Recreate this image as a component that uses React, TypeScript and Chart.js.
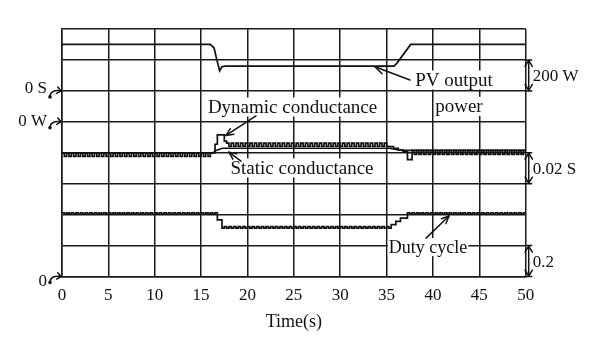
import React, { useEffect, useRef } from 'react';
import { Chart, registerables } from 'chart.js';

Chart.register(...registerables);

// ---------- data ----------
const X_MIN = 0;
const X_MAX = 50;
const X_STEP = 5; // tick labels 0,5,...,50 (s)
const SAMPLE_STEP = 0.25; // s, spacing of the sampled traces below

// PV output power (W)
const pvTimes = [0, 16.0, 16.4, 16.7, 17.0, 17.25, 17.6, 35.8, 36.1, 37.6, 50];
const pvPower = [500, 500, 477, 400, 330, 356, 360, 360, 378, 500, 500];

// Static conductance -I/V (S)
const staticTimes = [0, 16.3, 16.6, 17.3, 35.3, 36.0, 37.0, 50];
const staticConductance = [-0.04, -0.04, -0.0385, -0.0371, -0.0371, -0.0378, -0.0385, -0.0385];

// Dynamic conductance dI/dV (S), sampled every 0.25 s
const dynamicConductance = [
  -0.0402, -0.0424, -0.0402, -0.0424, -0.0402, -0.0424, -0.0402, -0.0424, -0.0402, -0.0424,
  -0.0402, -0.0424, -0.0402, -0.0424, -0.0402, -0.0424, -0.0402, -0.0424, -0.0402, -0.0424,
  -0.0402, -0.0424, -0.0402, -0.0424, -0.0402, -0.0424, -0.0402, -0.0424, -0.0402, -0.0424,
  -0.0402, -0.0424, -0.0402, -0.0424, -0.0402, -0.0424, -0.0402, -0.0424, -0.0402, -0.0424,
  -0.0402, -0.0424, -0.0402, -0.0424, -0.0402, -0.0424, -0.0402, -0.0424, -0.0402, -0.0424,
  -0.0402, -0.0424, -0.0402, -0.0424, -0.0402, -0.0424, -0.0402, -0.0424, -0.0402, -0.0424,
  -0.0402, -0.0424, -0.0402, -0.0424, -0.0402,
  -0.04, -0.0345, -0.0284, -0.0284, -0.0284, -0.0325,
  -0.0338, -0.0358, -0.0338, -0.0358, -0.0338, -0.0358, -0.0338, -0.0358, -0.0338, -0.0358,
  -0.0338, -0.0358, -0.0338, -0.0358, -0.0338, -0.0358, -0.0338, -0.0358, -0.0338, -0.0358,
  -0.0338, -0.0358, -0.0338, -0.0358, -0.0338, -0.0358, -0.0338, -0.0358, -0.0338, -0.0358,
  -0.0338, -0.0358, -0.0338, -0.0358, -0.0338, -0.0358, -0.0338, -0.0358, -0.0338, -0.0358,
  -0.0338, -0.0358, -0.0338, -0.0358, -0.0338, -0.0358, -0.0338, -0.0358, -0.0338, -0.0358,
  -0.0338, -0.0358, -0.0338, -0.0358, -0.0338, -0.0358, -0.0338, -0.0358, -0.0338, -0.0358,
  -0.0338, -0.0358, -0.0338, -0.0358, -0.0338, -0.0358, -0.0338, -0.0358, -0.0338, -0.0358,
  -0.036, -0.036, -0.0371, -0.0371, -0.0382, -0.0382, -0.0393, -0.0393, -0.0445, -0.0445,
  -0.0385, -0.041, -0.0385, -0.041, -0.0385, -0.041, -0.0385, -0.041, -0.0385, -0.041,
  -0.0385, -0.041, -0.0385, -0.041, -0.0385, -0.041, -0.0385, -0.041, -0.0385, -0.041,
  -0.0385, -0.041, -0.0385, -0.041, -0.0385, -0.041, -0.0385, -0.041, -0.0385, -0.041,
  -0.0385, -0.041, -0.0385, -0.041, -0.0385, -0.041, -0.0385, -0.041, -0.0385, -0.041,
  -0.0385, -0.041, -0.0385, -0.041, -0.0385, -0.041, -0.0385, -0.041, -0.0385, -0.041,
];

// Duty cycle, sampled every 0.25 s
const dutyCycle = [
  0.412, 0.404, 0.412, 0.404, 0.412, 0.404, 0.412, 0.404, 0.412, 0.404,
  0.412, 0.404, 0.412, 0.404, 0.412, 0.404, 0.412, 0.404, 0.412, 0.404,
  0.412, 0.404, 0.412, 0.404, 0.412, 0.404, 0.412, 0.404, 0.412, 0.404,
  0.412, 0.404, 0.412, 0.404, 0.412, 0.404, 0.412, 0.404, 0.412, 0.404,
  0.412, 0.404, 0.412, 0.404, 0.412, 0.404, 0.412, 0.404, 0.412, 0.404,
  0.412, 0.404, 0.412, 0.404, 0.412, 0.404, 0.412, 0.404, 0.412, 0.404,
  0.412, 0.404, 0.412, 0.404, 0.412, 0.404, 0.412,
  0.366, 0.366,
  0.313, 0.322, 0.313, 0.322, 0.313, 0.322, 0.313, 0.322, 0.313, 0.322,
  0.313, 0.322, 0.313, 0.322, 0.313, 0.322, 0.313, 0.322, 0.313, 0.322,
  0.313, 0.322, 0.313, 0.322, 0.313, 0.322, 0.313, 0.322, 0.313, 0.322,
  0.313, 0.322, 0.313, 0.322, 0.313, 0.322, 0.313, 0.322, 0.313, 0.322,
  0.313, 0.322, 0.313, 0.322, 0.313, 0.322, 0.313, 0.322, 0.313, 0.322,
  0.313, 0.322, 0.313, 0.322, 0.313, 0.322, 0.313, 0.322, 0.313, 0.322,
  0.313, 0.322, 0.313, 0.322, 0.313, 0.322, 0.313, 0.322, 0.313, 0.322,
  0.313, 0.322, 0.313,
  0.335, 0.335, 0.357, 0.357, 0.378, 0.378, 0.378,
  0.412, 0.404, 0.412, 0.404, 0.412, 0.404, 0.412, 0.404, 0.412, 0.404,
  0.412, 0.404, 0.412, 0.404, 0.412, 0.404, 0.412, 0.404, 0.412, 0.404,
  0.412, 0.404, 0.412, 0.404, 0.412, 0.404, 0.412, 0.404, 0.412, 0.404,
  0.412, 0.404, 0.412, 0.404, 0.412, 0.404, 0.412, 0.404, 0.412, 0.404,
  0.412, 0.404, 0.412, 0.404, 0.412, 0.404, 0.412, 0.404, 0.412, 0.404,
  0.412, 0.404,
];

// channel scales (value per division, 8 divisions on screen)
const DIVISIONS = 8;
const PV_PER_DIV = 200; // W
const PV_ZERO_DIV = 5;
const G_PER_DIV = 0.02; // S
const G_ZERO_DIV = 6;
const D_PER_DIV = 0.2;
const D_ZERO_DIV = 0;

// ---------- styling ----------
const SERIF = '"Liberation Serif", "DejaVu Serif", serif';
const INK = '#111111';
const GRID = '#1a1a1a';

function head(ctx: CanvasRenderingContext2D, x1: number, y1: number, x2: number, y2: number, size = 8, spread = 0.42) {
  const a = Math.atan2(y2 - y1, x2 - x1);
  ctx.beginPath();
  ctx.moveTo(x2 - size * Math.cos(a - spread), y2 - size * Math.sin(a - spread));
  ctx.lineTo(x2, y2);
  ctx.lineTo(x2 - size * Math.cos(a + spread), y2 - size * Math.sin(a + spread));
  ctx.stroke();
}

function arrow(ctx: CanvasRenderingContext2D, x1: number, y1: number, x2: number, y2: number, size = 8) {
  ctx.beginPath();
  ctx.moveTo(x1, y1);
  ctx.lineTo(x2, y2);
  ctx.stroke();
  head(ctx, x1, y1, x2, y2, size);
}

const scopePlugin = {
  id: 'scopeAnnotations',
  beforeDatasetsDraw(chart: any) {
    const { ctx, scales } = chart;
    const X = (t: number) => scales.x.getPixelForValue(t);
    const Y = (d: number) => scales.yD.getPixelForValue(d * D_PER_DIV);
    const labels: [string, number, number, number][] = [
      ['Dynamic conductance', 24.86, 5.48, 19],
      ['Static conductance', 25.88, 3.51, 19],
      ['PV output', 42.27, 6.35, 19],
      ['power', 42.8, 5.5, 19],
      ['Duty cycle', 39.47, 0.95, 18],
    ];
    ctx.save();
    ctx.textAlign = 'center';
    ctx.textBaseline = 'middle';
    for (const [text, t, d, size] of labels) {
      ctx.font = `${size}px ${SERIF}`;
      const w = ctx.measureText(text).width;
      const cx = X(t);
      const cy = Y(d);
      ctx.fillStyle = '#ffffff';
      ctx.fillRect(cx - w / 2 - 1, cy - size * 0.5, w + 2, size * 1.0);
      ctx.fillStyle = INK;
      ctx.fillText(text, cx, cy + 1);
    }
    ctx.restore();
  },
  afterDatasetsDraw(chart: any) {
    const { ctx, scales, chartArea } = chart;
    const X = (t: number) => scales.x.getPixelForValue(t);
    const Y = (d: number) => scales.yD.getPixelForValue(d * D_PER_DIV);
    ctx.save();
    ctx.strokeStyle = INK;
    ctx.fillStyle = INK;
    ctx.lineWidth = 1.5;
    ctx.lineCap = 'round';
    ctx.lineJoin = 'round';

    // pointer arrows
    arrow(ctx, X(20.92), Y(5.19), X(17.68), Y(4.56));
    arrow(ctx, X(19.3), Y(3.73), X(18.0), Y(4.02));
    arrow(ctx, X(37.52), Y(6.35), X(33.75), Y(6.78), 10);
    arrow(ctx, X(39.25), Y(1.24), X(41.73), Y(1.955));

    // right side scale markers
    const r = chartArea.right;
    const mx = r + 3;
    const markers: [number, number, string][] = [
      [7, 6, '200 W'],
      [4, 3, '0.02 S'],
      [1, 0, '0.2'],
    ];
    ctx.font = `17px ${SERIF}`;
    ctx.textAlign = 'left';
    ctx.textBaseline = 'middle';
    for (const [top, bot, text] of markers) {
      const y1 = Y(top);
      const y2 = Y(bot);
      ctx.beginPath();
      ctx.moveTo(r, y1);
      ctx.lineTo(r + 6, y1);
      ctx.moveTo(r, y2);
      ctx.lineTo(r + 6, y2);
      ctx.moveTo(mx, y1 + 1);
      ctx.lineTo(mx, y2 - 1);
      ctx.stroke();
      head(ctx, mx, y2, mx, y1 + 0.5, 7, 0.55);
      head(ctx, mx, y1, mx, y2 - 0.5, 7, 0.55);
      ctx.fillText(text, r + 7, (y1 + y2) / 2 + 1);
    }

    // left zero markers
    const l = chartArea.left;
    const zeros: [number, string, number][] = [
      [G_ZERO_DIV, '0 S', -3],
      [PV_ZERO_DIV, '0 W', -1],
      [D_ZERO_DIV, '0', 4],
    ];
    ctx.textAlign = 'right';
    for (const [d, text, dy] of zeros) {
      const y = Y(d);
      ctx.fillText(text, l - 15, y + dy + 1);
      ctx.beginPath();
      ctx.moveTo(l - 12, y + 6);
      ctx.bezierCurveTo(l - 12, y + 1, l - 8, y - 1, l - 1, y);
      ctx.stroke();
      head(ctx, l - 7, y - 1, l - 1, y, 5, 0.7);
      ctx.beginPath();
      ctx.arc(l - 12, y + 6, 1.8, 0, Math.PI * 2);
      ctx.fill();
    }
    ctx.restore();
  },
};

export default function App() {
  const canvasRef = useRef<HTMLCanvasElement | null>(null);

  useEffect(() => {
    document.body.style.margin = '0';
    const canvas = canvasRef.current;
    if (!canvas) return;
    const sampled = (vals: number[]) => vals.map((v, i) => ({ x: i * SAMPLE_STEP, y: v }));
    const paired = (ts: number[], vals: number[]) => vals.map((v, i) => ({ x: ts[i], y: v }));

    const traceStyle = {
      borderColor: INK,
      borderWidth: 1.7,
      pointRadius: 0,
      fill: false,
      tension: 0,
    };

    const gridOpts = {
      color: GRID,
      lineWidth: 1.5,
      tickLength: 0,
      drawTicks: false,
    };

    const chart = new Chart(canvas, {
      type: 'line',
      data: {
        datasets: [
          { label: 'PV output power', data: paired(pvTimes, pvPower), yAxisID: 'yP', ...traceStyle },
          { label: 'Static conductance', data: paired(staticTimes, staticConductance), yAxisID: 'yG', ...traceStyle },
          { label: 'Dynamic conductance', data: sampled(dynamicConductance), yAxisID: 'yG', stepped: true, ...traceStyle },
          { label: 'Duty cycle', data: sampled(dutyCycle), yAxisID: 'yD', stepped: true, ...traceStyle },
        ] as any,
      },
      options: {
        animation: false,
        responsive: false,
        devicePixelRatio: 1,
        events: [],
        layout: { padding: { left: 62, right: 74.3, top: 29, bottom: 0 } },
        plugins: {
          legend: { display: false },
          tooltip: { enabled: false },
          title: { display: false },
        },
        scales: {
          x: {
            type: 'linear',
            min: X_MIN,
            max: X_MAX,
            ticks: {
              stepSize: X_STEP,
              color: INK,
              font: { family: SERIF, size: 17 },
              padding: 9,
              maxRotation: 0,
            },
            grid: gridOpts,
            border: { display: true, color: GRID, width: 1.5 },
            title: {
              display: true,
              text: 'Time(s)',
              color: INK,
              font: { family: SERIF, size: 18 },
              padding: { top: 0, bottom: 19 },
            },
            afterFit: (scale: any) => {
              scale.height = 75.5;
            },
          },
          yD: {
            type: 'linear',
            position: 'left',
            min: D_ZERO_DIV * -D_PER_DIV,
            max: (DIVISIONS - D_ZERO_DIV) * D_PER_DIV,
            ticks: { display: false, stepSize: D_PER_DIV },
            grid: gridOpts,
            border: { display: true, color: GRID, width: 1.5 },
            afterFit: (scale: any) => {
              scale.width = 0;
            },
          },
          yP: {
            type: 'linear',
            display: false,
            min: -PV_ZERO_DIV * PV_PER_DIV,
            max: (DIVISIONS - PV_ZERO_DIV) * PV_PER_DIV,
          },
          yG: {
            type: 'linear',
            display: false,
            min: -G_ZERO_DIV * G_PER_DIV,
            max: (DIVISIONS - G_ZERO_DIV) * G_PER_DIV,
          },
        },
      } as any,
      plugins: [scopePlugin],
    });
    return () => chart.destroy();
  }, []);

  return (
    <div style={{ position: 'fixed', left: 0, top: 0, width: 600, height: 352, background: '#ffffff' }}>
      <canvas ref={canvasRef} width={600} height={352} />
    </div>
  );
}
